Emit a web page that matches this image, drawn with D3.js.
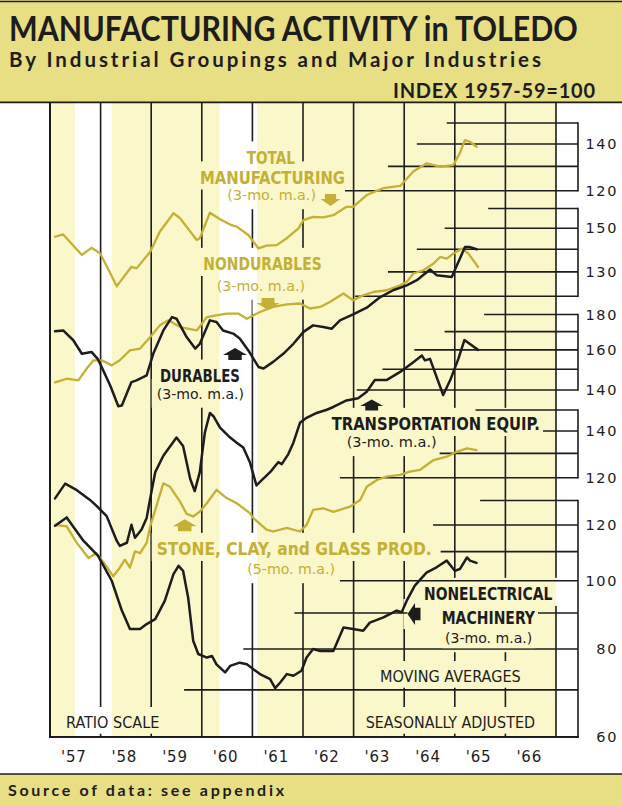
<!DOCTYPE html>
<html>
<head>
<meta charset="utf-8">
<script src="https://d3js.org/d3.v7.min.js"></script>
<style>
html,body{margin:0;padding:0;background:#fff;}
svg{display:block;}
</style>
</head>
<body>
<svg id="chart" width="622" height="806"></svg>
<script>
// ---------------- DATA ----------------
const yearLabels = ["'57","'58","'59","'60","'61","'62","'63","'64","'65","'66"];
const yearStart = 1957;
const recessionStart = [1957.49, 1960.35];
const recessionEnd   = [1958.22, 1961.09];

// Total manufacturing (3-mo. m.a.)
const totalT = [1957.10,1957.26,1957.63,1957.82,1957.99,1958.13,1958.32,1958.61,1958.71,1958.98,1959.17,1959.44,1959.57,1959.90,1959.96,1960.16,1960.36,1960.59,1960.69,1960.92,1961.12,1961.28,1961.48,1961.68,1961.91,1962.01,1962.20,1962.40,1962.60,1962.86,1962.99,1963.26,1963.59,1963.92,1964.18,1964.44,1964.71,1964.97,1965.10,1965.20,1965.30,1965.43];
const totalV = [103.1,103.9,97.1,99.4,97.6,93.3,87.6,93.4,92.9,98.1,104.8,111.4,109.6,102.0,102.6,111.6,109.2,107.1,106.6,103.7,99.2,100.1,100.3,102.6,106.0,108.9,110.1,109.9,110.7,113.8,113.8,118.3,121.0,121.9,127.8,131.3,129.9,130.6,135.8,141.8,141.0,138.7];

// Nondurables (3-mo. m.a.)
const nondurT = [1957.10,1957.33,1957.56,1957.73,1957.86,1958.02,1958.22,1958.38,1958.58,1958.78,1958.98,1959.17,1959.34,1959.57,1959.90,1960.10,1960.29,1960.49,1960.72,1960.89,1961.15,1961.41,1961.68,1961.94,1962.14,1962.34,1962.53,1962.80,1962.99,1963.19,1963.39,1963.65,1963.92,1964.05,1964.18,1964.38,1964.58,1964.71,1964.84,1964.97,1965.14,1965.27,1965.46];
const nondurV = [90.5,91.6,91.1,94.8,97.3,97.3,95.7,97.3,100.5,101.1,105.0,109.1,110.9,108.5,107.3,112.1,112.7,113.4,113.4,111.5,114.0,115.9,116.9,117.2,115.3,115.9,117.8,121.1,118.4,120.4,121.7,122.4,124.4,125.8,129.3,130.7,133.6,136.5,135.8,138.0,140.3,138.0,132.1];

// Durables (3-mo. m.a.)
const durT = [1957.10,1957.26,1957.46,1957.63,1957.82,1957.95,1958.19,1958.35,1958.42,1958.61,1958.71,1958.91,1959.04,1959.24,1959.41,1959.50,1959.70,1959.87,1959.96,1960.16,1960.29,1960.42,1960.62,1960.75,1960.92,1961.12,1961.22,1961.41,1961.61,1961.81,1962.01,1962.20,1962.40,1962.57,1962.73,1962.99,1963.26,1963.52,1963.78,1964.05,1964.25,1964.51,1964.64,1964.94,1965.20,1965.30,1965.43];
const durV = [107.0,107.3,103.9,99.4,100.0,97.6,89.6,83.7,83.9,90.6,91.1,92.6,99.4,107.3,112.1,111.5,105.0,101.1,102.7,110.9,110.3,107.3,106.2,104.5,100.5,95.2,94.7,96.8,99.4,102.7,106.8,109.1,108.5,107.9,110.9,113.1,115.6,119.6,122.4,124.4,126.5,131.0,128.6,127.8,141.0,141.0,140.0];

// Transportation equipment (3-mo. m.a.)
const transT = [1957.10,1957.30,1957.53,1957.79,1957.92,1958.12,1958.32,1958.38,1958.52,1958.61,1958.68,1958.81,1958.91,1958.98,1959.08,1959.24,1959.50,1959.63,1959.77,1959.86,1959.96,1960.06,1960.16,1960.23,1960.36,1960.56,1960.69,1960.82,1960.95,1961.08,1961.18,1961.35,1961.51,1961.58,1961.71,1961.81,1961.94,1962.07,1962.27,1962.47,1962.60,1962.86,1963.09,1963.26,1963.42,1963.65,1963.92,1964.18,1964.35,1964.41,1964.51,1964.77,1964.91,1965.07,1965.19,1965.46];
const transV = [97.6,102.5,100.3,97.1,95.2,92.0,84.7,83.3,84.2,89.4,85.6,88.0,91.4,97.6,106.5,112.5,119.5,116.2,104.2,100.0,106.5,121.5,129.7,128.3,123.5,119.5,117.5,115.6,110.1,101.9,103.6,106.5,110.1,109.4,113.1,117.5,125.5,127.6,129.7,131.1,132.3,135.2,136.2,139.2,144.7,144.7,148.7,153.6,157.0,154.5,155.3,137.7,144.7,155.3,165.3,160.0];

// Stone, clay and glass products (5-mo. m.a.)
const stoneT = [1957.10,1957.33,1957.53,1957.76,1957.92,1958.09,1958.25,1958.38,1958.48,1958.58,1958.68,1958.78,1958.91,1958.98,1959.11,1959.24,1959.37,1959.57,1959.70,1959.83,1959.96,1960.10,1960.29,1960.49,1960.69,1960.95,1961.02,1961.28,1961.41,1961.68,1961.94,1962.07,1962.20,1962.40,1962.60,1962.93,1963.13,1963.26,1963.46,1963.65,1963.92,1964.11,1964.31,1964.58,1964.84,1965.04,1965.24,1965.43];
const stoneV = [102.7,102.2,96.8,92.1,93.6,90.1,86.7,89.2,91.6,89.2,94.1,93.6,96.8,102.2,109.7,117.8,116.5,110.9,106.5,105.6,107.3,110.3,115.3,112.2,110.3,106.8,105.0,101.1,100.5,101.7,100.5,102.7,107.9,108.5,107.2,109.1,111.5,116.5,119.1,120.4,121.1,122.4,123.1,127.2,128.6,130.7,132.2,131.4];

// Nonelectrical machinery (3-mo. m.a.)
const nonelecT = [1957.10,1957.33,1957.66,1957.95,1958.22,1958.42,1958.58,1958.78,1958.91,1959.08,1959.27,1959.44,1959.54,1959.63,1959.73,1959.83,1959.93,1960.10,1960.20,1960.29,1960.46,1960.56,1960.75,1960.89,1961.02,1961.15,1961.35,1961.45,1961.55,1961.68,1961.81,1961.97,1962.07,1962.20,1962.34,1962.60,1962.80,1962.99,1963.19,1963.32,1963.59,1963.85,1963.95,1964.05,1964.21,1964.44,1964.64,1964.84,1965.00,1965.10,1965.24,1965.30,1965.43];
const nonelecV = [119.7,123.0,114.0,108.5,100.0,90.7,85.4,85.4,86.8,88.2,93.7,102.2,105.0,103.3,94.7,82.2,78.7,77.8,78.2,76.1,74.1,75.7,76.5,76.1,74.9,73.7,72.5,70.4,71.7,73.7,73.3,74.5,77.8,80.0,79.5,79.5,85.8,85.4,84.9,87.2,88.7,90.7,90.2,93.7,98.4,102.7,104.5,106.8,103.3,103.9,107.9,106.8,106.0];

// Gridline values, the year each starts at, and labelled values
const totalTicks   = [150,140,130,120];       const totalTickFrom   = [1964.84,1964.25,1963.68,1962.83]; const totalTickLabels   = [140,120];
const nondurTicks  = [160,150,140,130,120];   const nondurTickFrom  = [1965.66,1964.80,1964.25,1963.68,1963.03]; const nondurTickLabels = [150,130];
const transTicks   = [180,170,160,150,140];   const transTickFrom   = [1965.58,1964.80,1964.20,1963.57,1963.06]; const transTickLabels  = [180,160,140];
const stoneTicks   = [150,140,130,120];       const stoneTickFrom   = [1965.41,1965.85,1964.70,1962.73]; const stoneTickLabels   = [140,120];
const nonelecTicks = [130,120,110,100,90,80,70,60]; const nonelecTickFrom = [1965.50,1964.57,1964.72,1962.73,1961.83,1960.82,1959.65,1957.0]; const nonelecTickLabels = [120,100,80,60];

// ---------------- STYLE / LAYOUT ----------------
const GOLD = "#C3B034", INK = "#1d1d1d", BAND = "#E8DE84", PAPER = "#FAF7CB";
const CONDENSED = "'DejaVu Sans Condensed','Liberation Sans Narrow','DejaVu Sans',sans-serif";
const HEAD_FONT = "Lato,'DejaVu Sans',sans-serif";
const L = 50, R = 556, T = 103, B = 737, BR = 578;

const svg = d3.select("#chart");
const x = d3.scaleLinear().domain([yearStart, yearStart + yearLabels.length]).range([L, R]);

const panels = [
  {scale: d3.scaleLog().domain([120,150]).range([190.7,123]),  ticks: totalTicks,  from: totalTickFrom,  labels: totalTickLabels},
  {scale: d3.scaleLog().domain([120,160]).range([296.3,208.5]),ticks: nondurTicks, from: nondurTickFrom, labels: nondurTickLabels},
  {scale: d3.scaleLog().domain([140,180]).range([390,314.5]),  ticks: transTicks,  from: transTickFrom,  labels: transTickLabels},
  {scale: d3.scaleLog().domain([120,150]).range([477.7,410]),  ticks: stoneTicks,  from: stoneTickFrom,  labels: stoneTickLabels},
  {scale: d3.scaleLog().domain([60,130]).range([737,500.5]),   ticks: nonelecTicks,from: nonelecTickFrom,labels: nonelecTickLabels}
];

const series = [
  {t: totalT,   v: totalV,   p: panels[0], c: GOLD, w: 2.3},
  {t: nondurT,  v: nondurV,  p: panels[1], c: GOLD, w: 2.3},
  {t: stoneT,   v: stoneV,   p: panels[3], c: GOLD, w: 2.3},
  {t: durT,     v: durV,     p: panels[1], c: INK,  w: 2.5},
  {t: transT,   v: transV,   p: panels[2], c: INK,  w: 2.5},
  {t: nonelecT, v: nonelecV, p: panels[4], c: INK,  w: 2.5}
];

// chart annotations: text, left, right, baseline, size, weight, colour
const labels = [
  ["TOTAL",246.7,295,163.5,18,"bold",GOLD],
  ["MANUFACTURING",200,345,183.5,18,"bold",GOLD],
  ["(3-mo. m.a.)",227.3,316,200,14.5,"normal",GOLD],
  ["NONDURABLES",203.3,321.7,270,18,"bold",GOLD],
  ["(3-mo. m.a.)",216.7,305,290.5,14.5,"normal",GOLD],
  ["DURABLES",160,240,381.7,18,"bold",INK],
  ["(3-mo. m.a.)",156.7,244,398.5,14.5,"normal",INK],
  ["TRANSPORTATION EQUIP.",331.7,540,430,18,"bold",INK],
  ["(3-mo. m.a.)",346.7,436.7,447,14,"normal",INK],
  ["STONE, CLAY, and GLASS PROD.",156.7,431.7,555,18,"bold",GOLD],
  ["(5-mo. m.a.)",247.3,335,574,14.5,"normal",GOLD],
  ["NONELECTRICAL",424,552.3,600,18,"bold",INK],
  ["MACHINERY",441.7,535,624,18,"bold",INK],
  ["(3-mo. m.a.)",445,532.3,643,14.5,"normal",INK],
  ["MOVING AVERAGES",380,520.7,681.7,16,"normal",INK],
  ["SEASONALLY ADJUSTED",365.7,535,727.7,16,"normal",INK],
  ["RATIO SCALE",66,159.3,727.7,16,"normal",INK]
];
// arrows: cx, cy, width, length, direction, colour
const arrows = [
  [330.5,200,20,12,"down",GOLD],
  [268,304,23,12,"down",GOLD],
  [235,354,24,12,"up",INK],
  [371.7,405,23,11,"up",INK],
  [184.7,525.3,24,12,"up",GOLD],
  [414,614,22,13,"left",INK]
];

// fit a text to a given width: widen with letter spacing, or squeeze horizontally
function fitText(sel, x0, y0, width) {
  sel.attr("x", 0).attr("y", 0);
  const natural = sel.node().getComputedTextLength();
  if (natural <= width) {
    sel.attr("textLength", width).attr("lengthAdjust", "spacing")
       .attr("transform", `translate(${x0},${y0})`);
  } else {
    sel.attr("transform", `translate(${x0},${y0}) scale(${width / natural},1)`);
  }
  return sel;
}

// ---------------- DRAW ----------------
const defs = svg.append("defs");
const gBg = svg.append("g");
const gYear = svg.append("g");
const gGrid = svg.append("g");
const gLines = svg.append("g");
const gText = svg.append("g");
const gFrame = svg.append("g");

// backgrounds
svg.insert("rect", ":first-child").attr("width",622).attr("height",806).attr("fill","#fff");
gBg.append("rect").attr("x",L).attr("y",T).attr("width",R-L).attr("height",B-T).attr("fill",PAPER);
gBg.selectAll("rect.rec").data(recessionStart.map((s,i)=>[s,recessionEnd[i]])).join("rect")
  .attr("class","rec").attr("x",d=>x(d[0])).attr("y",T).attr("width",d=>x(d[1])-x(d[0])).attr("height",B-T).attr("fill","#fff");

// masks
const yMask = defs.append("mask").attr("id","ymask").attr("maskUnits","userSpaceOnUse")
  .attr("x",0).attr("y",0).attr("width",622).attr("height",806);
yMask.append("rect").attr("width",622).attr("height",806).attr("fill","#fff");
const gMask = defs.append("mask").attr("id","gmask").attr("maskUnits","userSpaceOnUse")
  .attr("x",0).attr("y",0).attr("width",622).attr("height",806);
gMask.append("rect").attr("width",622).attr("height",806).attr("fill","#fff");

labels.forEach(([t,x1,x2,y,s,w,c]) => {
  const cap = s*0.73;
  const desc = t.startsWith("(") ? s*0.22 : 0;
  yMask.append("rect").attr("x",x1-5).attr("y",y-cap-9).attr("width",x2-x1+10).attr("height",cap+desc+15).attr("fill","#000");
  gMask.append("rect").attr("x",x1-3).attr("y",y-cap-2).attr("width",x2-x1+6).attr("height",cap+desc+4).attr("fill","#000");
});
arrows.forEach(([cx,cy,w,h,dir]) => {
  const horiz = dir==="left"||dir==="right";
  const bw = horiz ? h : w, bh = horiz ? w : h;
  yMask.append("rect").attr("x",cx-bw/2-4).attr("y",cy-bh/2-4).attr("width",bw+8).attr("height",bh+8).attr("fill","#000");
  if (horiz) gMask.append("rect").attr("x",cx-bw/2).attr("y",cy-4).attr("width",441.7-(cx-bw/2)).attr("height",8).attr("fill","#000");
});

// year lines
const yearBounds = d3.range(1, yearLabels.length + 1).map(i => yearStart + i);
gYear.selectAll("line").data(yearBounds).join("line")
  .attr("x1",d=>x(d)).attr("x2",d=>x(d)).attr("y1",T).attr("y2",B)
  .attr("stroke",INK).attr("stroke-width",1.6).attr("mask","url(#ymask)");

// gridlines, brackets and scale labels per panel
panels.forEach(p => {
  const g = gGrid.append("g").attr("mask","url(#gmask)");
  g.selectAll("line").data(p.ticks.map((v,i)=>({v, f:p.from[i]}))).join("line")
    .attr("x1",d=>x(d.f)).attr("x2",BR).attr("y1",d=>p.scale(d.v)).attr("y2",d=>p.scale(d.v))
    .attr("stroke",INK).attr("stroke-width",1.6);
  const ext = d3.extent(p.ticks);
  gGrid.append("line").attr("x1",BR).attr("x2",BR).attr("y1",p.scale(ext[1])-0.8).attr("y2",p.scale(ext[0])+0.8)
    .attr("stroke",INK).attr("stroke-width",1.6);
  gText.selectAll(null).data(p.labels).join("text")
    .attr("x",618).attr("y",d=>p.scale(d)).attr("dy","0.36em").attr("text-anchor","end")
    .attr("font-family","'DejaVu Sans',sans-serif").attr("font-size",14.5).attr("letter-spacing",1.6)
    .attr("fill",INK).text(d=>d);
});

// data lines
series.forEach(s => {
  const pts = s.t.map((t,i)=>({t, v:s.v[i]}));
  gLines.append("path").datum(pts)
    .attr("d", d3.line().x(d=>x(d.t)).y(d=>s.p.scale(d.v)))
    .attr("fill","none").attr("stroke",s.c).attr("stroke-width",s.w)
    .attr("stroke-linejoin","round").attr("stroke-linecap","round");
});

// annotation labels
labels.forEach(([t,x1,x2,y,s,w,c]) => {
  gText.append("text").attr("x",x1).attr("y",y).attr("font-family",CONDENSED)
    .attr("font-size",s).attr("font-weight",w).attr("fill",c)
    .attr("textLength",x2-x1).attr("lengthAdjust","spacingAndGlyphs").text(t);
});

// arrows
const rot = {up:0, down:180, left:-90, right:90};
arrows.forEach(([cx,cy,w,h,dir,c]) => {
  const hw=w/2, sw=w*0.28, top=-h/2, mid=-h/2+h*0.58;
  const pts=[[0,top],[hw,mid],[sw,mid],[sw,h/2],[-sw,h/2],[-sw,mid],[-hw,mid]];
  gText.append("path").attr("d","M"+pts.map(q=>q.join(",")).join("L")+"Z")
    .attr("transform",`translate(${cx},${cy}) rotate(${rot[dir]})`).attr("fill",c);
});

// frame
gFrame.append("line").attr("x1",L).attr("x2",L).attr("y1",T).attr("y2",B+1).attr("stroke",INK).attr("stroke-width",2);
gFrame.append("line").attr("x1",L-1).attr("x2",BR+0.8).attr("y1",B).attr("y2",B).attr("stroke",INK).attr("stroke-width",2);

// year labels
gText.selectAll("text.yr").data(yearLabels).join("text").attr("class","yr")
  .attr("x",(d,i)=>x(yearStart+i+0.5)-1.5).attr("y",761.5).attr("text-anchor","middle")
  .attr("font-family","'DejaVu Sans',sans-serif").attr("font-size",15).attr("letter-spacing",0.8)
  .attr("fill",INK).text(d=>d);

// header
const head = svg.append("g");
head.append("rect").attr("x",0).attr("y",0).attr("width",622).attr("height",102).attr("fill",BAND);
head.append("line").attr("x1",0).attr("x2",622).attr("y1",1.5).attr("y2",1.5).attr("stroke",INK).attr("stroke-width",1.5);
head.append("line").attr("x1",0).attr("x2",622).attr("y1",102.3).attr("y2",102.3).attr("stroke",INK).attr("stroke-width",1.8);
fitText(head.append("text").attr("font-family",HEAD_FONT).attr("font-weight","bold").attr("font-size",35)
  .attr("fill",INK).text("MANUFACTURING ACTIVITY in TOLEDO"), 9, 40.5, 569);
fitText(head.append("text").attr("font-family",HEAD_FONT).attr("font-weight","bold").attr("font-size",20.5)
  .attr("fill",INK).text("By Industrial Groupings and Major Industries"), 9, 66.5, 532);
fitText(head.append("text").attr("font-family",HEAD_FONT).attr("font-weight","bold").attr("font-size",20)
  .attr("fill",INK).text("INDEX 1957-59=100"), 393, 98, 202);

// footer
const foot = svg.append("g");
foot.append("rect").attr("x",0).attr("y",774).attr("width",622).attr("height",32).attr("fill",BAND);
foot.append("line").attr("x1",0).attr("x2",622).attr("y1",774).attr("y2",774).attr("stroke",INK).attr("stroke-width",1.6);
fitText(foot.append("text").attr("font-family",HEAD_FONT).attr("font-weight","bold").attr("font-size",16)
  .attr("fill",INK).text("Source of data: see appendix"), 8, 795.5, 276);
</script>
</body>
</html>
